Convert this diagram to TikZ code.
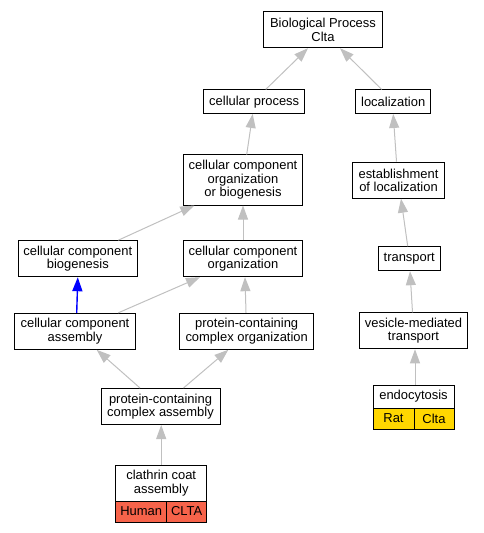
\documentclass[tikz,border=0pt]{standalone}
\usepackage{fontspec}
\setmainfont{Liberation Sans}
\usetikzlibrary{arrows.meta,calc}
\definecolor{EdgeGray} {HTML}{C0C0C0}
\definecolor{EdgeBlue} {HTML}{0000FF}
\definecolor{HumanRed} {HTML}{F7634A}
\definecolor{RatGold}  {HTML}{FFD700}
\tikzset{
  term/.style={rectangle,draw=black,line width=1bp,fill=white,
               font=\fontsize{13}{13.4}\selectfont,align=center,inner sep=0pt},
  cell/.style={term,fill=#1,minimum height=21bp},
  isa/.style={-{Triangle[length=14bp,width=10bp]},color=EdgeGray,line width=1bp},
  part/.style={-{Triangle[length=14bp,width=10bp]},color=EdgeBlue,line width=1.4bp},
}

\begin{document}
\begin{tikzpicture}[x=1bp,y=-1bp]
  \useasboundingbox (0,0) rectangle (484,533);

  % top of the tree
  \node[term,minimum width=119bp,minimum height=36bp] (BP) at (323,29.7)
    {Biological Process\\Clta};
  \node[term,minimum width=101.5bp,minimum height=23.5bp] (CP) at (254.2,101.7)
    {cellular process};
  \node[term,minimum width=75bp,minimum height=23.5bp] (LOC) at (393.2,101.7)
    {localization};

  % left branch
  \node[term,minimum width=119.5bp,minimum height=50bp] (CCOB) at (243,180)
    {cellular component\\organization\\or biogenesis};
  \node[term,minimum width=119bp,minimum height=36bp] (CCB) at (77.8,258.7)
    {cellular component\\biogenesis};
  \node[term,minimum width=119.5bp,minimum height=36bp] (CCO) at (243,258.7)
    {cellular component\\organization};
  \node[term,minimum width=120bp,minimum height=36bp] (CCA) at (75,331.3)
    {cellular component\\assembly};
  \node[term,minimum width=133.5bp,minimum height=36bp] (PCCO) at (246.7,331.3)
    {protein-containing\\complex organization};
  \node[term,minimum width=119bp,minimum height=36bp] (PCCA) at (160.5,406.5)
    {protein-containing\\complex assembly};
  \node[term,minimum width=91bp,minimum height=36bp] (CCOAT) at (161.2,483)
    {clathrin coat\\assembly};
  \node[cell=HumanRed,minimum width=51bp] (CCOAThs) at (141.2,511.5) {Human};
  \node[cell=HumanRed,minimum width=40bp] (CCOATgene) at (186.7,511.5) {CLTA};

  % right branch
  \node[term,minimum width=91.5bp,minimum height=36bp] (EST) at (398.5,180.2)
    {establishment\\of localization};
  \node[term,minimum width=62bp,minimum height=24bp] (TRN) at (409.2,258.7)
    {transport};
  \node[term,minimum width=108bp,minimum height=36bp] (VMT) at (413.5,330.8)
    {vesicle-mediated\\transport};
  \node[term,minimum width=81bp,minimum height=23bp] (ENDO) at (413.5,396.5)
    {endocytosis};
  \node[cell=RatGold,minimum width=41bp] (ENDOrn) at (393.5,418.5) {Rat};
  \node[cell=RatGold,minimum width=40bp] (ENDOgene) at (434,418.5) {Clta};

  % is_a edges
  \draw[isa] ($(CP.north)+(11.5,0)$)   -- ($(BP.south)+(-15,0)$);
  \draw[isa] ($(LOC.north)+(-11.5,0)$) -- ($(BP.south)+(17,0)$);
  \draw[isa] ($(CCOB.north)+(3.7,0)$)  -- ($(CP.south)+(-1.5,0)$);
  \draw[isa] ($(EST.north)+(-2,0)$)    -- (LOC.south);
  \draw[isa] ($(CCB.north)+(40.5,0)$)  -- ($(CCOB.south)+(-48.7,0)$);
  \draw[isa] (CCO.north)               -- (CCOB.south);
  \draw[isa] ($(TRN.north)+(-1.5,0)$)  -- ($(EST.south)+(2.5,0)$);
  \draw[isa] ($(CCA.north)+(43.3,0)$)  -- ($(CCO.south)+(-43,0)$);
  \draw[isa] ($(PCCO.north)+(-0.7,0)$) -- ($(CCO.south)+(2,0)$);
  \draw[isa] ($(VMT.north)+(-1,0)$)    -- ($(TRN.south)+(0.8,0)$);
  \draw[isa] ($(PCCA.north)+(-20.5,0)$) -- ($(CCA.south)+(21.7,0)$);
  \draw[isa] ($(PCCA.north)+(23,0)$)   -- ($(PCCO.south)+(-18.4,0)$);
  \draw[isa] (CCOAT.north)             -- ($(PCCA.south)+(0.7,0)$);
  \draw[isa] ($(ENDO.north)+(1.5,0)$)  -- ($(VMT.south)+(1.5,0)$);
  \draw[part] ($(CCA.north)+(1.7,0)$)  -- (CCB.south);

\end{tikzpicture}
\end{document}
